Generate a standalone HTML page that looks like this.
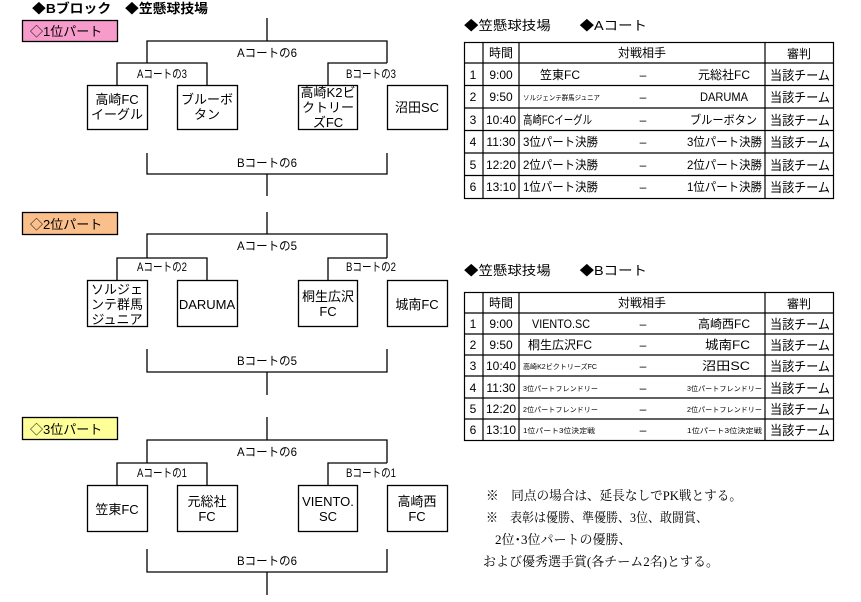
<!DOCTYPE html>
<html><head><meta charset="utf-8"><style>
html,body{margin:0;padding:0;background:#fff;width:861px;height:602px;overflow:hidden}
svg{display:block}
text{font-family:"Liberation Sans","Noto Sans CJK JP",sans-serif;fill:#000}
.s{font-family:"Liberation Serif","Noto Serif CJK SC",serif}
</style></head><body>
<svg width="861" height="602" viewBox="0 0 861 602" xmlns="http://www.w3.org/2000/svg">
<g stroke="#000" stroke-width="1.3" fill="none">
<!-- S1 -->
<rect x="22.5" y="20.5" width="95" height="21" fill="#f79bcb"/>
<path d="M267 18V41M147 63V41H387V63M117 85V63H207V85M328 85V63H387"/>
<path d="M147 153V174H387V153M267 174V196"/>
<rect x="87.5" y="85.5" width="60" height="44" fill="#fff"/>
<rect x="177.5" y="85.5" width="60" height="44" fill="#fff"/>
<rect x="298.5" y="85.5" width="59" height="44" fill="#fff"/>
<rect x="387.5" y="85.5" width="60" height="44" fill="#fff"/>
<!-- S2 -->
<rect x="22.5" y="212.5" width="95" height="22" fill="#fbbf8c"/>
<path d="M267 212V234M147 258V234H387V258M117 280V258H207V280M328 280V258H387M147 349V372H387V349M267 372V395"/>
<rect x="87.5" y="280.5" width="60" height="46" fill="#fff"/>
<rect x="177.5" y="280.5" width="60" height="46" fill="#fff"/>
<rect x="298.5" y="280.5" width="59" height="46" fill="#fff"/>
<rect x="387.5" y="280.5" width="60" height="46" fill="#fff"/>
<!-- S3 -->
<rect x="22.5" y="417.5" width="95" height="22" fill="#ffff99"/>
<path d="M267 417V440M147 463V440H387V463M117 485V463H207V485M328 485V463H387M147 549V572H387V549M267 572V595"/>
<rect x="87.5" y="485.5" width="60" height="46" fill="#fff"/>
<rect x="177.5" y="485.5" width="60" height="46" fill="#fff"/>
<rect x="298.5" y="485.5" width="59" height="46" fill="#fff"/>
<rect x="387.5" y="485.5" width="60" height="46" fill="#fff"/>
</g>
<text x="32" y="13" font-size="13" font-weight="bold" textLength="176" lengthAdjust="spacingAndGlyphs">◆Bブロック　◆笠懸球技場</text>
<g font-size="13">
<text x="30" y="36">◇1位パート</text>
<text x="30" y="229">◇2位パート</text>
<text x="30" y="434">◇3位パート</text>
</g>
<g font-size="12" text-anchor="middle" lengthAdjust="spacingAndGlyphs">
<text x="267" y="57" textLength="60" lengthAdjust="spacingAndGlyphs">Aコートの6</text>
<text x="162" y="78" textLength="50" lengthAdjust="spacingAndGlyphs">Aコートの3</text>
<text x="371" y="78" textLength="50" lengthAdjust="spacingAndGlyphs">Bコートの3</text>
<text x="267" y="167" textLength="60" lengthAdjust="spacingAndGlyphs">Bコートの6</text>
<text x="267" y="250" textLength="60" lengthAdjust="spacingAndGlyphs">Aコートの5</text>
<text x="162" y="271" textLength="50" lengthAdjust="spacingAndGlyphs">Aコートの2</text>
<text x="371" y="271" textLength="50" lengthAdjust="spacingAndGlyphs">Bコートの2</text>
<text x="267" y="365" textLength="60" lengthAdjust="spacingAndGlyphs">Bコートの5</text>
<text x="267" y="456" textLength="60" lengthAdjust="spacingAndGlyphs">Aコートの6</text>
<text x="162" y="477" textLength="50" lengthAdjust="spacingAndGlyphs">Aコートの1</text>
<text x="371" y="477" textLength="50" lengthAdjust="spacingAndGlyphs">Bコートの1</text>
<text x="267" y="565" textLength="60" lengthAdjust="spacingAndGlyphs">Bコートの6</text>
</g>
<g font-size="13" text-anchor="middle">
<text x="117" y="104">高崎FC</text><text x="117" y="119">イーグル</text>
<text x="207" y="104">ブルーボ</text><text x="207" y="119">タン</text>
<text x="328" y="97">高崎K2ビ</text><text x="328" y="112">クトリー</text><text x="328" y="127">ズFC</text>
<text x="417" y="112">沼田SC</text>
<text x="117" y="294">ソルジェ</text><text x="117" y="309">ンテ群馬</text><text x="117" y="324">ジュニア</text>
<text x="207" y="309">DARUMA</text>
<text x="328" y="301">桐生広沢</text><text x="328" y="316">FC</text>
<text x="417" y="309">城南FC</text>
<text x="117" y="514">笠東FC</text>
<text x="207" y="506">元総社</text><text x="207" y="521">FC</text>
<text x="328" y="506">VIENTO.</text><text x="328" y="521">SC</text>
<text x="417" y="506">高崎西</text><text x="417" y="521">FC</text>
</g>
<!-- Tables -->
<text x="464" y="30" font-size="13" textLength="183" lengthAdjust="spacingAndGlyphs">◆笠懸球技場　　◆Aコート</text>
<text x="464" y="275" font-size="13" textLength="183" lengthAdjust="spacingAndGlyphs">◆笠懸球技場　　◆Bコート</text>
<g stroke="#000" stroke-width="1.2" fill="none">
<rect x="464.5" y="42.5" width="369" height="156"/>
<path d="M464 63H834M464 85.5H834M464 108H834M464 130.5H834M464 153H834M464 175.5H834M483 42V198M519 42V198M765 42V198"/>
<rect x="464.5" y="292.5" width="369" height="148"/>
<path d="M464 313H834M464 334H834M464 355H834M464 376H834M464 398H834M464 419H834M483 292V441M519 292V441M765 292V441"/>
</g>
<g font-size="12" text-anchor="middle">
<text x="501" y="57">時間</text><text x="642" y="57">対戦相手</text><text x="799" y="58">審判</text>
<text x="501" y="307">時間</text><text x="642" y="307">対戦相手</text><text x="799" y="308">審判</text>
<text x="473" y="79">1</text><text x="501" y="79">9:00</text><text x="643" y="79">–</text>
<text x="473" y="101">2</text><text x="501" y="101">9:50</text><text x="643" y="101">–</text>
<text x="473" y="124">3</text><text x="501" y="124">10:40</text><text x="643" y="124">–</text>
<text x="473" y="146">4</text><text x="501" y="146">11:30</text><text x="643" y="146">–</text>
<text x="473" y="169">5</text><text x="501" y="169">12:20</text><text x="643" y="169">–</text>
<text x="473" y="191">6</text><text x="501" y="191">13:10</text><text x="643" y="191">–</text>
<text x="473" y="328">1</text><text x="501" y="328">9:00</text><text x="643" y="328">–</text>
<text x="473" y="349">2</text><text x="501" y="349">9:50</text><text x="643" y="349">–</text>
<text x="473" y="370">3</text><text x="501" y="370">10:40</text><text x="643" y="370">–</text>
<text x="473" y="392">4</text><text x="501" y="392">11:30</text><text x="643" y="392">–</text>
<text x="473" y="413">5</text><text x="501" y="413">12:20</text><text x="643" y="413">–</text>
<text x="473" y="434">6</text><text x="501" y="434">13:10</text><text x="643" y="434">–</text>
</g>
<g font-size="13">
<text x="770" y="80" textLength="60" lengthAdjust="spacingAndGlyphs">当該チーム</text>
<text x="770" y="102" textLength="60" lengthAdjust="spacingAndGlyphs">当該チーム</text>
<text x="770" y="125" textLength="60" lengthAdjust="spacingAndGlyphs">当該チーム</text>
<text x="770" y="147" textLength="60" lengthAdjust="spacingAndGlyphs">当該チーム</text>
<text x="770" y="170" textLength="60" lengthAdjust="spacingAndGlyphs">当該チーム</text>
<text x="770" y="192" textLength="60" lengthAdjust="spacingAndGlyphs">当該チーム</text>
<text x="770" y="329" textLength="60" lengthAdjust="spacingAndGlyphs">当該チーム</text>
<text x="770" y="350" textLength="60" lengthAdjust="spacingAndGlyphs">当該チーム</text>
<text x="770" y="371" textLength="60" lengthAdjust="spacingAndGlyphs">当該チーム</text>
<text x="770" y="393" textLength="60" lengthAdjust="spacingAndGlyphs">当該チーム</text>
<text x="770" y="414" textLength="60" lengthAdjust="spacingAndGlyphs">当該チーム</text>
<text x="770" y="435" textLength="60" lengthAdjust="spacingAndGlyphs">当該チーム</text>
</g>
<g font-size="12">
<text x="540" y="79" textLength="40" lengthAdjust="spacingAndGlyphs">笠東FC</text>
<text x="698" y="79" textLength="52" lengthAdjust="spacingAndGlyphs">元総社FC</text>
<text x="523" y="100" font-size="7" textLength="77" lengthAdjust="spacingAndGlyphs">ソルジェンテ群馬ジュニア</text>
<text x="700" y="101" textLength="48" lengthAdjust="spacingAndGlyphs">DARUMA</text>
<text x="523" y="124" textLength="69" lengthAdjust="spacingAndGlyphs">高崎FCイーグル</text>
<text x="690" y="124" textLength="67" lengthAdjust="spacingAndGlyphs">ブルーボタン</text>
<text x="523" y="146" textLength="75" lengthAdjust="spacingAndGlyphs">3位パート決勝</text>
<text x="687" y="146" textLength="75" lengthAdjust="spacingAndGlyphs">3位パート決勝</text>
<text x="523" y="169" textLength="75" lengthAdjust="spacingAndGlyphs">2位パート決勝</text>
<text x="687" y="169" textLength="75" lengthAdjust="spacingAndGlyphs">2位パート決勝</text>
<text x="523" y="191" textLength="75" lengthAdjust="spacingAndGlyphs">1位パート決勝</text>
<text x="687" y="191" textLength="75" lengthAdjust="spacingAndGlyphs">1位パート決勝</text>

<text x="532" y="328" textLength="58" lengthAdjust="spacingAndGlyphs">VIENTO.SC</text>
<text x="698" y="328" textLength="52" lengthAdjust="spacingAndGlyphs">高崎西FC</text>
<text x="528" y="349" textLength="64" lengthAdjust="spacingAndGlyphs">桐生広沢FC</text>
<text x="705" y="349" textLength="45" lengthAdjust="spacingAndGlyphs">城南FC</text>
<text x="523" y="369" font-size="7" textLength="74" lengthAdjust="spacingAndGlyphs">高崎K2ビクトリーズFC</text>
<text x="702" y="370" textLength="48" lengthAdjust="spacingAndGlyphs">沼田SC</text>
<text x="523" y="391" font-size="7" textLength="75" lengthAdjust="spacingAndGlyphs">3位パートフレンドリー</text>
<text x="687" y="391" font-size="7" textLength="75" lengthAdjust="spacingAndGlyphs">3位パートフレンドリー</text>
<text x="523" y="412" font-size="7" textLength="75" lengthAdjust="spacingAndGlyphs">2位パートフレンドリー</text>
<text x="687" y="412" font-size="7" textLength="75" lengthAdjust="spacingAndGlyphs">2位パートフレンドリー</text>
<text x="523" y="433" font-size="7" textLength="72" lengthAdjust="spacingAndGlyphs">1位パート3位決定戦</text>
<text x="687" y="433" font-size="7" textLength="75" lengthAdjust="spacingAndGlyphs">1位パート3位決定戦</text>
</g>
<g font-size="13">
<text class="s" x="486" y="500" textLength="256" lengthAdjust="spacingAndGlyphs">※　同点の場合は、延長なしでPK戦とする。</text>
<text class="s" x="486" y="522" textLength="222" lengthAdjust="spacingAndGlyphs">※　表彰は優勝、準優勝、3位、敢闘賞、</text>
<text class="s" x="495" y="544">2位･3位パートの優勝、</text>
<text class="s" x="483" y="566" textLength="236" lengthAdjust="spacingAndGlyphs">および優秀選手賞(各チーム2名)とする。</text>
</g>
</svg>
</body></html>
